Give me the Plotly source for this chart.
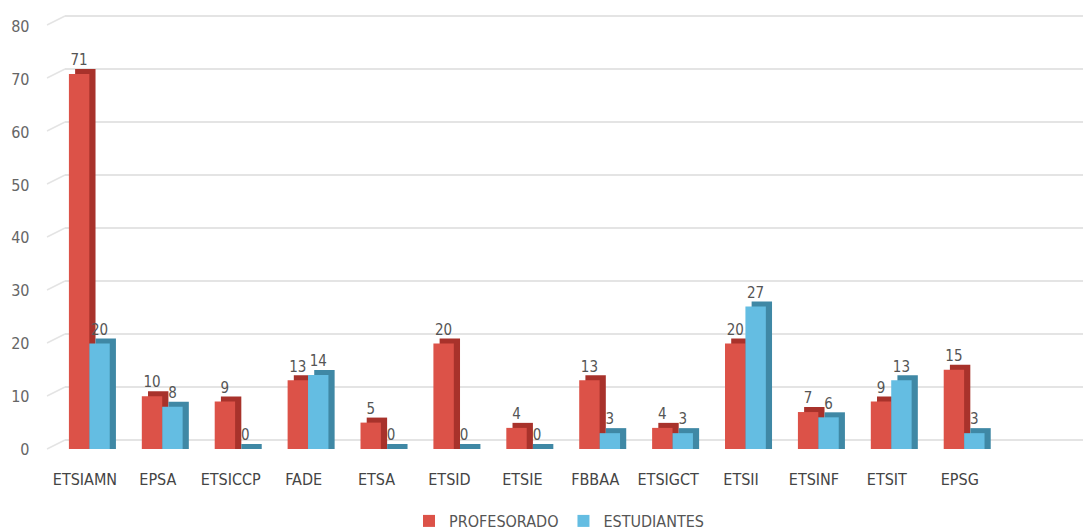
import plotly.graph_objects as go

categories = ["ETSIAMN", "EPSA", "ETSICCP", "FADE", "ETSA", "ETSID", "ETSIE",
              "FBBAA", "ETSIGCT", "ETSII", "ETSINF", "ETSIT", "EPSG"]
profesorado = [71, 10, 9, 13, 5, 20, 4, 13, 4, 20, 7, 9, 15]
estudiantes = [20, 8, 0, 14, 0, 0, 0, 3, 3, 27, 6, 13, 3]
y_ticks = [0, 10, 20, 30, 40, 50, 60, 70, 80]

W, H = 1083, 531
FONT = "Liberation Sans Narrow, DejaVu Sans Condensed, Arial Narrow, sans-serif"

RED, RED_SIDE = "#DC5248", "#A8322B"
BLUE, BLUE_SIDE = "#64BDE2", "#3F88A5"

bar_w = 0.28
dx = 0.085   # depth to the right (category units)
dy = 0.95    # depth upward (value units)

idx = list(range(len(categories)))

fig = go.Figure()

# invisible trace so the background grid subplot exists
fig.add_trace(go.Scatter(x=[0.5] * len(y_ticks), y=y_ticks, mode="markers",
                         marker=dict(opacity=0), hoverinfo="skip",
                         showlegend=False, xaxis="x", yaxis="y"))

series = [
    ("PROFESORADO", profesorado, RED, RED_SIDE, -0.22),
    ("ESTUDIANTES", estudiantes, BLUE, BLUE_SIDE, 0.06),
]
for name, vals, col, side, off in series:
    fig.add_trace(go.Bar(x=idx, y=[v + dy for v in vals], base=0,
                         offset=off + dx, width=bar_w, marker_color=side,
                         marker_line_width=0, showlegend=False,
                         hoverinfo="skip", xaxis="x2", yaxis="y2"))
    fig.add_trace(go.Bar(x=idx, y=vals, base=0, offset=off, width=bar_w,
                         marker_color=col, marker_line_width=0, name=name,
                         xaxis="x2", yaxis="y2"))
for name, vals, col, side, off in series:
    fig.add_trace(go.Scatter(x=[i + off + bar_w / 2 for i in idx],
                             y=[v + dy for v in vals], mode="text",
                             text=[str(v) for v in vals],
                             textposition="top center",
                             textfont=dict(family=FONT, size=15, color="#555555"),
                             cliponaxis=False, showlegend=False,
                             hoverinfo="skip", xaxis="x2", yaxis="y2"))

# perspective lines at left edge of grid
for v in y_ticks:
    fig.add_shape(type="line", xref="paper", yref="y",
                  x0=47 / W, x1=65 / W, y0=v - 1.7, y1=v,
                  line=dict(color="#e4e4e4", width=1.5))

top_px, bot_px = 5, 468
fig.update_layout(
    width=W, height=H,
    margin=dict(l=0, r=0, t=top_px, b=H - bot_px, autoexpand=False),
    paper_bgcolor="white",
    plot_bgcolor="rgba(0,0,0,0)",
    barmode="overlay",
    font=dict(family=FONT, color="#555555"),
    xaxis=dict(domain=[65 / W, 1], range=[0, 1], showgrid=False,
               zeroline=False, showticklabels=False, showline=False),
    yaxis=dict(domain=[0, 1], range=[(440 - bot_px) / 5.30, (440 - top_px) / 5.30],
               tickvals=y_ticks, showticklabels=False, showgrid=True,
               gridcolor="#e4e4e4", gridwidth=2, zeroline=False),
    xaxis2=dict(domain=[48.5 / W, 1], anchor="y2",
                range=[-0.5, (W - 48.5) / 72.9 - 0.5],
                tickvals=idx, ticktext=categories, showgrid=False,
                zeroline=False, showline=False, automargin=False,
                tickfont=dict(family=FONT, size=16, color="#444444")),
    yaxis2=dict(domain=[0, 1], anchor="x2",
                range=[(449 - bot_px) / 5.28, (449 - top_px) / 5.28],
                tickvals=y_ticks, showgrid=False, zeroline=False,
                ticklabelstandoff=18, automargin=False,
                tickfont=dict(family=FONT, size=16, color="#666666")),
    legend=dict(orientation="h", x=559 / W, xanchor="center",
                y=(bot_px - 521) / (bot_px - top_px), yanchor="middle",
                font=dict(family=FONT, size=16, color="#555555"),
                traceorder="normal"),
    showlegend=True,
)

fig.write_html("out.html")
